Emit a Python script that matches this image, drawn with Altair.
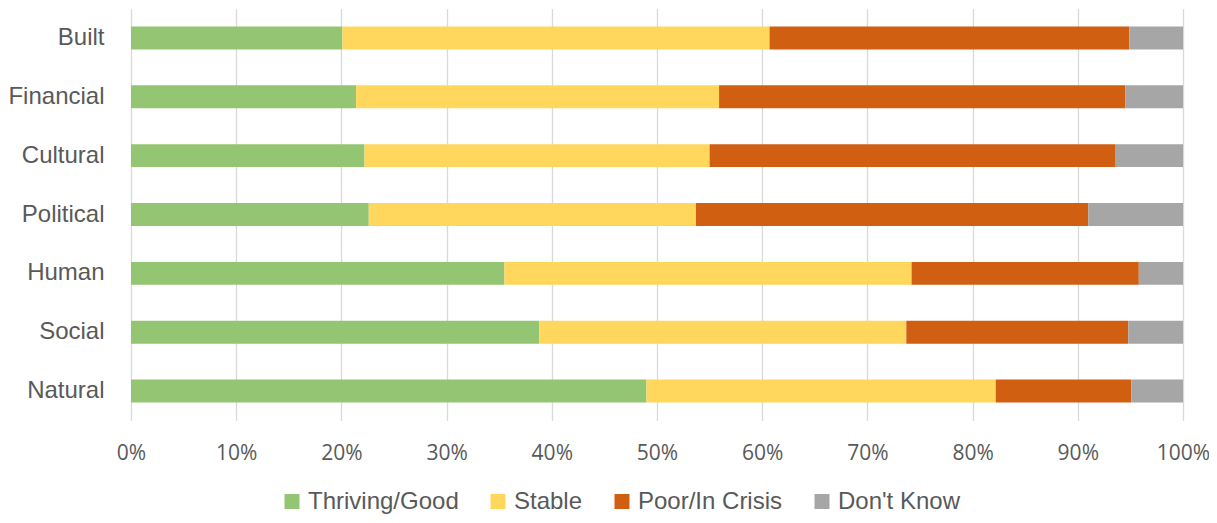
import altair as alt
import pandas as pd

categories = ["Built", "Financial", "Cultural", "Political", "Human", "Social", "Natural"]
statuses = ["Thriving/Good", "Stable", "Poor/In Crisis", "Don't Know"]
thriving = [20.1, 21.4, 22.2, 22.6, 35.5, 38.8, 49.0]
stable = [40.6, 34.5, 32.8, 31.1, 38.7, 34.9, 33.2]
poor = [34.2, 38.6, 38.6, 37.3, 21.6, 21.1, 12.9]
dont_know = [5.1, 5.5, 6.4, 9.0, 4.2, 5.2, 4.9]
colors = ["#93C572", "#FFD75D", "#D15F12", "#A6A6A6"]
x_ticks = [0, 0.1, 0.2, 0.3, 0.4, 0.5, 0.6, 0.7, 0.8, 0.9, 1.0]

rows = []
for series_idx, (name, vals) in enumerate(zip(statuses, [thriving, stable, poor, dont_know])):
    for cat, v in zip(categories, vals):
        rows.append({"category": cat, "status": name, "value": v, "idx": series_idx})
df = pd.DataFrame(rows)

label_font = "Liberation Sans, Arial, sans-serif"

chart = alt.Chart(df).mark_bar().encode(
    y=alt.Y("category:N", sort=categories, title=None,
            scale=alt.Scale(paddingInner=0.61, paddingOuter=0.305),
            axis=alt.Axis(domain=False, ticks=False, tickSize=0, grid=False,
                          labelFont=label_font, labelFontSize=24, labelColor="#595959",
                          labelPadding=27, labelLimit=0)),
    x=alt.X("value:Q", stack="normalize", title=None,
            scale=alt.Scale(domain=[0, 1]),
            axis=alt.Axis(values=x_ticks, format=".0%", domain=False, ticks=False,
                          tickSize=0, labelFlush=False,
                          grid=True, gridColor="#D9D9D9", gridWidth=1.3,
                          labelFont="Open Sans", labelFontSize=21, labelColor="#595959",
                          labelPadding=22)),
    color=alt.Color("status:N", scale=alt.Scale(domain=statuses, range=colors),
                    legend=alt.Legend(title=None, orient="none", direction="horizontal",
                                      legendX=149, legendY=481, padding=0,
                                      symbolType="square", symbolSize=225,
                                      symbolStrokeWidth=0,
                                      labelFont=label_font, labelFontSize=24,
                                      labelColor="#595959", labelOffset=4,
                                      labelLimit=0, columnPadding=27)),
    order=alt.Order("idx:Q"),
).properties(
    width=1052, height=412,
    autosize=alt.AutoSizeParams(type="none"),
    padding={"left": 123, "top": 0.5, "right": 26, "bottom": 93.5},
    background="white",
).configure_view(stroke=None)

chart.save("out.html", embed_options={"renderer": "svg", "actions": False})
